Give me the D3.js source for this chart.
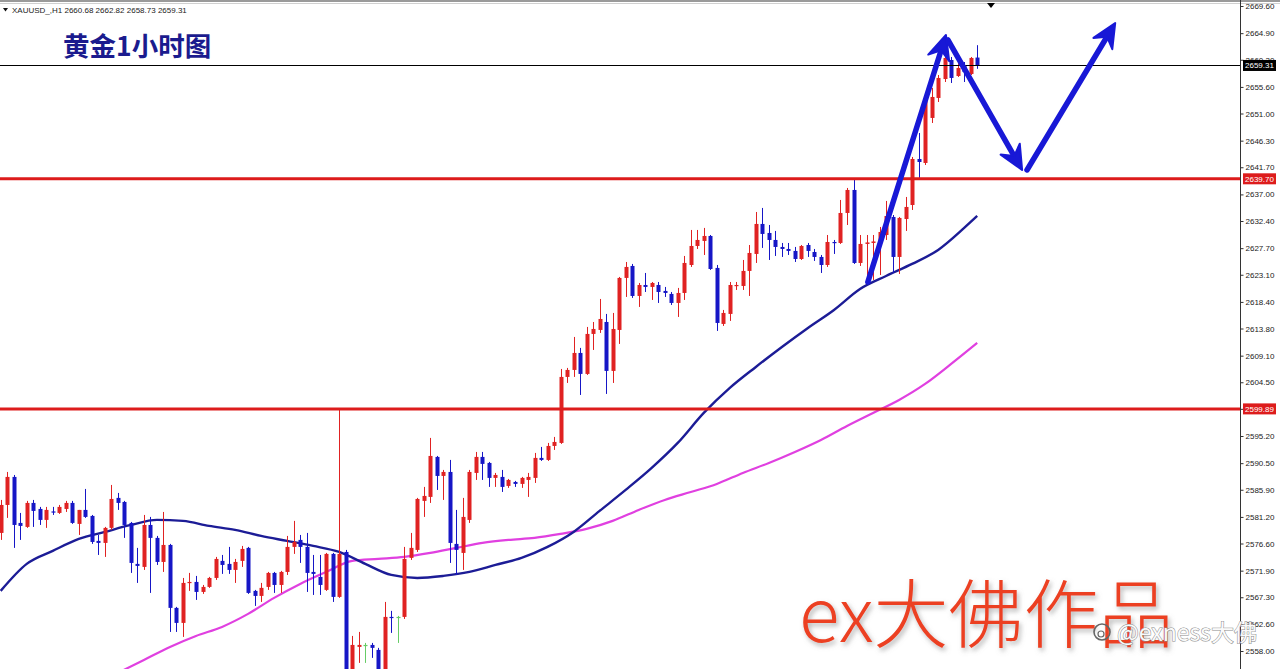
<!DOCTYPE html>
<html><head><meta charset="utf-8">
<script src="https://cdn.jsdelivr.net/npm/d3@7"></script>
<style>html,body{margin:0;padding:0;background:#fff;overflow:hidden}</style>
</head><body><svg id="c" width="1280" height="669"></svg>
<script>
// ---------------- DATA ----------------
const symbol = "XAUUSD_,H1";
const open = [2578.43,2583.27,2588.12,2580.16,2579.47,2583.62,2582.58,2580.68,2582.15,2581.89,
2582.58,2583.62,2579.99,2582.41,2581.37,2577.05,2576.70,2579.30,2584.49,2583.79,
2580.16,2573.07,2572.55,2579.81,2577.57,2573.41,2576.35,2565.46,2562.86,2569.78,
2569.95,2568.22,2569.09,2570.64,2573.59,2573.07,2572.03,2573.59,2575.84,2568.40,
2567.53,2569.09,2571.51,2569.43,2571.68,2576.01,2577.22,2576.01,2571.68,2570.82,
2568.57,2574.80,2567.36,2575.14,2551.27,2558.71,2559.05,2559.05,2558.19,2553.00,
2563.90,2563.90,2563.90,2574.11,2575.49,2583.97,2584.66,2591.58,2588.29,2588.98,
2576.53,2574.97,2580.68,2588.81,2591.58,2590.54,2587.95,2588.12,2586.56,2587.25,
2586.91,2587.60,2587.95,2591.41,2591.06,2593.48,2594.00,2605.42,2606.63,2609.57,
2605.94,2612.86,2613.55,2614.93,2606.46,2613.55,2622.55,2624.62,2619.43,2621.33,
2620.99,2621.33,2620.30,2619.78,2618.22,2619.95,2624.79,2628.08,2628.95,2629.81,
2624.28,2614.59,2616.32,2621.16,2621.16,2623.76,2626.70,2631.89,2630.33,2629.12,
2627.91,2627.56,2627.22,2625.83,2628.25,2627.04,2626.18,2624.79,2628.77,2628.60,
2633.79,2637.77,2625.14,2628.43,2628.60,2628.60,2629.98,2633.10,2626.18,2632.75,
2635.17,2643.13,2642.44,2650.23,2653.69,2656.97,2660.26,2657.49,2659.22,2657.84,
2660.68];
const high = [2584.14,2588.98,2588.46,2581.89,2583.97,2584.14,2582.93,2582.93,2582.93,2583.27,
2583.97,2583.97,2582.41,2586.04,2581.54,2578.08,2579.47,2586.73,2585.35,2583.97,
2580.33,2575.84,2581.54,2581.20,2577.91,2582.06,2576.53,2565.63,2570.64,2571.51,
2570.99,2569.43,2570.82,2574.28,2574.62,2576.01,2573.93,2576.18,2576.01,2568.57,
2569.78,2571.68,2571.68,2571.86,2577.91,2580.51,2578.08,2578.43,2574.62,2574.62,
2574.97,2574.97,2599.89,2575.49,2560.61,2561.30,2559.40,2559.40,2558.54,2566.49,
2564.94,2564.07,2576.01,2578.43,2584.49,2586.39,2594.87,2591.75,2589.33,2591.06,
2582.41,2584.49,2589.33,2592.44,2592.44,2590.71,2588.81,2589.33,2587.77,2587.43,
2588.12,2588.81,2592.27,2593.31,2594.00,2595.04,2606.80,2606.98,2612.34,2610.44,
2614.07,2614.93,2618.91,2616.32,2616.49,2622.72,2625.31,2624.97,2621.68,2623.41,
2621.85,2621.85,2620.99,2620.12,2620.82,2626.35,2630.85,2630.85,2631.20,2629.98,
2624.79,2617.01,2621.85,2621.85,2625.66,2628.25,2633.96,2634.66,2631.71,2630.68,
2628.60,2628.60,2627.91,2628.25,2628.60,2627.56,2626.52,2629.98,2629.12,2636.04,
2638.12,2639.60,2629.98,2629.98,2629.98,2631.37,2635.87,2633.44,2633.10,2636.56,
2643.48,2647.63,2654.03,2655.42,2657.66,2662.51,2660.78,2660.26,2659.91,2660.78,
2662.82];
const low = [2577.22,2581.03,2575.84,2577.22,2579.30,2579.47,2579.81,2579.30,2581.54,2581.72,
2582.06,2579.99,2578.08,2581.03,2576.53,2574.62,2574.28,2578.95,2582.41,2577.57,
2571.51,2569.78,2572.03,2568.05,2572.89,2571.68,2561.30,2561.30,2560.44,2568.40,
2566.84,2567.88,2568.92,2570.30,2571.34,2571.34,2569.78,2572.55,2567.88,2565.80,
2566.49,2568.57,2568.05,2568.05,2571.16,2574.80,2573.24,2568.22,2567.70,2567.70,
2568.40,2566.49,2567.19,2551.27,2550.40,2555.94,2555.94,2556.81,2551.27,2551.27,
2561.13,2559.40,2563.55,2573.76,2575.14,2581.20,2583.62,2585.87,2584.14,2573.24,
2571.16,2572.03,2580.16,2587.60,2587.60,2586.39,2586.39,2585.52,2586.22,2586.39,
2586.22,2584.66,2587.08,2590.89,2590.89,2592.79,2593.83,2604.38,2605.42,2602.30,
2605.77,2610.09,2613.03,2602.48,2604.38,2611.13,2619.26,2619.09,2617.53,2620.12,
2618.74,2618.22,2619.26,2617.87,2615.80,2618.74,2624.45,2627.56,2626.52,2623.93,
2613.38,2614.24,2615.11,2620.47,2620.47,2619.43,2625.14,2627.74,2625.66,2626.35,
2626.18,2626.52,2625.31,2625.66,2626.18,2625.49,2623.41,2624.45,2626.70,2628.43,
2631.71,2624.97,2624.62,2622.72,2622.20,2623.06,2629.12,2623.41,2623.24,2630.68,
2634.31,2639.85,2642.09,2649.36,2652.99,2656.45,2656.28,2657.32,2656.45,2657.66,
2658.73];
const close = [2583.27,2588.12,2579.81,2579.64,2583.62,2582.24,2580.68,2582.41,2581.98,2582.93,
2583.62,2580.16,2582.41,2581.20,2576.87,2576.70,2579.30,2584.31,2583.62,2579.81,
2573.24,2572.72,2579.81,2577.57,2573.41,2576.35,2565.46,2562.86,2569.78,2569.95,
2568.22,2569.09,2570.64,2573.93,2572.89,2572.03,2573.41,2575.66,2568.05,2567.53,
2568.92,2571.51,2569.43,2571.68,2576.01,2576.87,2576.01,2571.51,2571.34,2569.43,
2574.80,2567.36,2574.80,2553.86,2559.05,2559.05,2559.05,2558.54,2553.00,2563.90,
2563.81,2563.90,2573.93,2575.84,2584.31,2584.83,2591.75,2588.29,2588.98,2576.70,
2575.49,2581.20,2588.98,2591.58,2590.37,2587.95,2588.46,2586.39,2587.60,2586.91,
2587.95,2588.12,2591.41,2591.06,2593.48,2594.17,2605.42,2606.63,2609.57,2605.94,
2612.86,2613.72,2615.45,2606.46,2613.72,2622.55,2624.45,2619.43,2621.33,2620.99,
2621.68,2620.12,2619.95,2618.22,2619.95,2625.14,2628.08,2629.12,2629.81,2624.10,
2614.76,2616.49,2621.33,2621.33,2623.76,2626.87,2631.89,2630.16,2629.12,2627.91,
2627.56,2627.22,2625.83,2628.08,2627.22,2626.18,2624.79,2628.77,2628.69,2633.79,
2637.77,2625.14,2628.43,2628.69,2628.86,2630.50,2633.27,2626.18,2632.93,2634.83,
2643.13,2642.61,2653.69,2653.86,2657.15,2660.61,2657.15,2658.88,2658.18,2660.61,
2659.31];
const greenDoji = [56, 61];

// moving averages (candle index, price)
const maBlueIdx = [0,4,8,12,16,20,24,28,32,36,40,44,48,52,56,60,64,68,72,76,80,84,88,92,96,100,104,108,112,116,120,124,128,132,136,140,144,148,150];
const maBlue = [2568.40,2573.07,2575.32,2577.39,2578.60,2579.81,2580.68,2580.51,2579.64,2578.95,2577.91,2577.05,2576.18,2575.14,2573.07,2571.16,2570.64,2570.99,2571.68,2572.89,2574.11,2576.01,2578.60,2582.24,2585.87,2589.68,2594.00,2599.19,2603.52,2607.15,2610.61,2613.90,2617.01,2620.64,2622.89,2624.97,2627.39,2631.20,2633.27];
const maMagIdx = [18,22,26,30,34,38,42,46,50,54,58,62,66,70,74,78,82,86,90,94,98,102,106,110,114,118,122,126,130,134,138,142,146,150];
const maMag = [2554.21,2556.46,2558.71,2560.61,2562.17,2564.42,2567.19,2569.61,2571.68,2573.59,2573.93,2574.28,2574.97,2575.84,2576.70,2577.22,2577.57,2578.26,2579.12,2580.51,2582.41,2584.14,2585.52,2586.91,2588.81,2590.54,2592.44,2594.52,2596.94,2599.19,2601.44,2604.21,2607.67,2611.30];

const levels = [2639.70, 2599.89];
const tickValues = [2669.60,2664.90,2660.30,2655.60,2651.00,2646.30,2641.70,2637.00,2632.40,2627.70,2623.10,2618.40,2613.80,2609.10,2604.50,2599.90,2595.20,2590.50,2585.90,2581.20,2576.60,2571.90,2567.30,2562.60,2558.00];

// drawn arrows (candle index, price)
const arrows = [
  [[133.2, 2621.85], [145.2, 2664.58]],
  [[145.5, 2663.72], [156.9, 2641.23]],
  [[157.65, 2641.23], [171.2, 2666.66]]
];
const title = "黄金1小时图";
const watermark = "ex大佛作品";
const handle = "@exness大佛";

// ---------------- CHART ----------------
const W = 1280, H = 669, plotR = 1240;
const svg = d3.select("#c");
const x = d3.scaleLinear().domain([0, 190]).range([0.7, 1237.6]);
const y = d3.scaleLinear().domain([2558.0, 2669.6]).range([651, 6]);

const RED = "#e02222", BLUE = "#1616c6", GREEN = "#66cc66";
const defs = svg.append("defs");
defs.append("clipPath").attr("id", "plot").append("rect").attr("x", 0).attr("y", 0).attr("width", plotR).attr("height", H);
const f = defs.append("filter").attr("id", "sh").attr("x", "-10%").attr("y", "-20%").attr("width", "130%").attr("height", "150%");
f.append("feDropShadow").attr("dx", 2).attr("dy", 3).attr("stdDeviation", 2.5).attr("flood-color", "#777").attr("flood-opacity", 0.55);

svg.append("rect").attr("width", W).attr("height", H).attr("fill", "#fff");

const g = svg.append("g").attr("clip-path", "url(#plot)");

// moving averages
const lineGen = d3.line().x(d => x(d[0])).y(d => y(d[1])).curve(d3.curveMonotoneX);
g.append("path").datum(maMagIdx.map((k, i) => [k, maMag[i]]))
  .attr("d", lineGen).attr("fill", "none").attr("stroke", "#e040e0").attr("stroke-width", 2.2);
g.append("path").datum(maBlueIdx.map((k, i) => [k, maBlue[i]]))
  .attr("d", lineGen).attr("fill", "none").attr("stroke", "#1c1c96").attr("stroke-width", 2.4);

// candles
const candles = open.map((o, i) => ({ i, o, h: high[i], l: low[i], c: close[i] }));
const colorOf = d => greenDoji.includes(d.i) ? GREEN : (d.c >= d.o ? RED : BLUE);
const cg = g.append("g").selectAll("g").data(candles).join("g");
cg.append("line")
  .attr("x1", d => Math.round(x(d.i)) + 0.5).attr("x2", d => Math.round(x(d.i)) + 0.5)
  .attr("y1", d => y(d.h)).attr("y2", d => y(d.l))
  .attr("stroke", colorOf).attr("stroke-width", 1);
cg.append("rect")
  .attr("x", d => Math.round(x(d.i)) - 1.5)
  .attr("width", 4)
  .attr("y", d => y(Math.max(d.o, d.c)))
  .attr("height", d => Math.max(1.2, Math.abs(y(d.o) - y(d.c))))
  .attr("fill", colorOf);

// level lines
levels.forEach(v => {
  g.append("line").attr("x1", 0).attr("x2", plotR).attr("y1", y(v)).attr("y2", y(v))
    .attr("stroke", "#dd1c1c").attr("stroke-width", 3);
});
// current price line
const last = close[close.length - 1];
g.append("line").attr("x1", 0).attr("x2", plotR)
  .attr("y1", Math.round(y(last)) + 0.5).attr("y2", Math.round(y(last)) + 0.5)
  .attr("stroke", "#000").attr("stroke-width", 1);

// arrows
const AC = "#1818d6";
arrows.forEach(a => {
  const x0 = x(a[0][0]), y0 = y(a[0][1]), x1 = x(a[1][0]), y1 = y(a[1][1]);
  const dx = x1 - x0, dy = y1 - y0, len = Math.hypot(dx, dy), ux = dx / len, uy = dy / len;
  const hl = 24, hw = 11, notch = 16;
  const bx = x1 - ux * hl, by = y1 - uy * hl;
  const nx = x1 - ux * notch, ny = y1 - uy * notch;
  g.append("line").attr("x1", x0).attr("y1", y0).attr("x2", nx).attr("y2", ny)
    .attr("stroke", AC).attr("stroke-width", 5.5).attr("stroke-linecap", "round");
  g.append("path").attr("d", `M${x1},${y1}L${bx - uy * hw},${by + ux * hw}L${nx},${ny}L${bx + uy * hw},${by - ux * hw}Z`)
    .attr("fill", AC).attr("stroke", AC).attr("stroke-width", 2).attr("stroke-linejoin", "round");
});

// top frame
svg.append("rect").attr("x", 0).attr("y", 0).attr("width", W).attr("height", 2).attr("fill", "#9a9a9a");
svg.append("line").attr("x1", 0).attr("x2", W).attr("y1", 3.5).attr("y2", 3.5).attr("stroke", "#d0d0d0");
svg.append("path").attr("d", "M987,3L995,3L991,8Z").attr("fill", "#000");

// header
svg.append("path").attr("d", "M3,8L8,8L5.5,11.5Z").attr("fill", "#111");
const fmt = d3.format(".2f");
const li = open.length - 1;
svg.append("text").attr("x", 12).attr("y", 13)
  .attr("font-family", "Liberation Sans, Arial, sans-serif").attr("font-size", 8).attr("fill", "#222")
  .text(`${symbol}  ${fmt(open[li])} ${fmt(high[li])} ${fmt(low[li])} ${fmt(close[li])}`);

// title
svg.append("text").attr("x", 63).attr("y", 56)
  .attr("font-family", "Noto Sans CJK SC, sans-serif").attr("font-weight", 700).attr("font-size", 26.5)
  .attr("fill", "#1b1b8e").text(title);

// right axis
const axis = d3.axisRight(y).tickValues(tickValues).tickFormat(fmt).tickSize(3).tickPadding(2);
const ag = svg.append("g").attr("transform", `translate(${plotR + 0.5},0)`).call(axis);
ag.select(".domain").attr("stroke", "#333").attr("d", `M0,0V${H}`);
ag.selectAll(".tick line").attr("stroke", "#333");
ag.selectAll("text").attr("font-family", "Liberation Sans, Arial, sans-serif").attr("font-size", 8).attr("fill", "#222");

// price labels
function priceTag(v, bg) {
  const yy = y(v);
  svg.append("rect").attr("x", 1243).attr("y", yy - 5.5).attr("width", 33).attr("height", 11).attr("fill", bg);
  svg.append("text").attr("x", 1245).attr("y", yy + 3)
    .attr("font-family", "Liberation Sans, Arial, sans-serif").attr("font-size", 8).attr("fill", "#fff").text(fmt(v));
}
levels.forEach(v => priceTag(v, "#dd1c1c"));
priceTag(last, "#000");

// watermark
svg.append("text").attr("x", 799).attr("y", 642)
  .attr("font-family", "Noto Sans CJK SC, sans-serif").attr("font-weight", 300).attr("font-size", 75)
  .attr("fill", "#ec4120").attr("filter", "url(#sh)").text(watermark);

// handle
const hg = svg.append("g");
hg.append("circle").attr("cx", 1102).attr("cy", 632).attr("r", 8).attr("fill", "none").attr("stroke", "#666").attr("stroke-width", 1.6);
hg.append("circle").attr("cx", 1101).attr("cy", 634).attr("r", 3).attr("fill", "none").attr("stroke", "#666").attr("stroke-width", 1.2);
hg.append("text").attr("x", 1117).attr("y", 641)
  .attr("font-family", "Noto Sans CJK SC, sans-serif").attr("font-size", 23)
  .attr("fill", "#fafafa").attr("stroke", "#8a8a8a").attr("stroke-width", 1).attr("paint-order", "stroke")
  .text(handle);
</script></body></html>
